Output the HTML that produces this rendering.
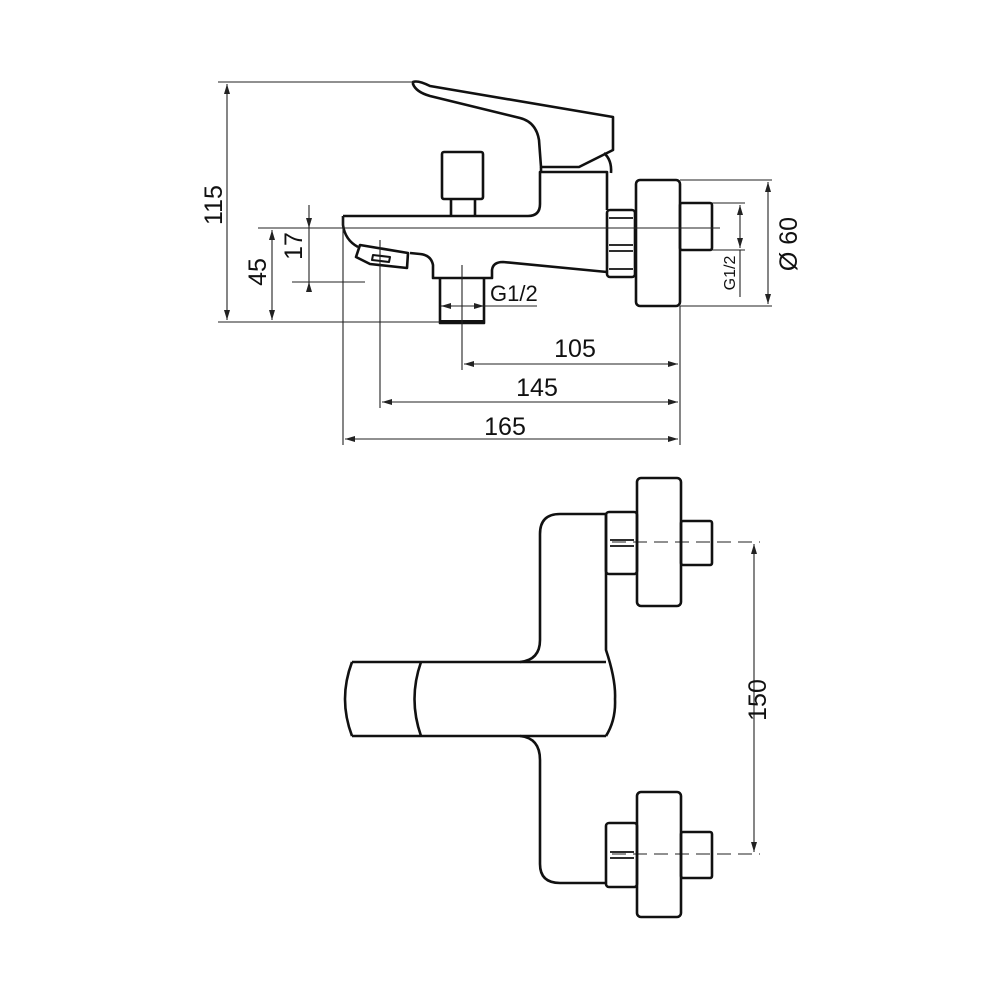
<!DOCTYPE html>
<html><head><meta charset="utf-8"><style>
html,body{margin:0;padding:0;background:#fff}
svg{display:block}
text{font-family:"Liberation Sans",Arial,sans-serif;fill:#111}
</style></head><body>
<svg width="1000" height="1000" viewBox="0 0 1000 1000" xmlns="http://www.w3.org/2000/svg">
<defs>
<marker id="a" viewBox="0 0 10 6" refX="10" refY="3" markerWidth="10" markerHeight="6" orient="auto-start-reverse" markerUnits="userSpaceOnUse"><path d="M0,0 L10,3 L0,6 z" fill="#222"/></marker>
</defs>
<g fill="none" stroke="#111" stroke-width="2.6" stroke-linejoin="round">
<!-- handle -->
<path d="M413,82 Q418,80 430,86 L613,117 L613,150 L579,167 L541,167 L539,140 Q536,122 520,118 L430,96 Q416,92 413,84 Z"/>
<path d="M604,153 Q612,160 611,173"/>
<!-- body -->
<path d="M343,216 L528,216 Q540,216 540,204 L540,172 L607,172 L607,210 M607,272 L503,262 Q493,262 492,270 L492,278 L433,278 L433,265 Q431,255 420,254 L410,253 M358,247 Q345,240 343,225 L343,216"/>
<path d="M541,172 L541,167"/>
<!-- aerator -->
<path d="M360,245 L408,253 L407,268 L370,264 L356,257 Z"/>
<path d="M373,255 L390,257 L389,262 L372,260 Z" stroke-width="2"/>
<!-- nipple -->
<path d="M440,278 L440,323 L484,323 L484,278"/>
<path d="M440,322 L484,322" stroke-width="4"/>
<!-- diverter -->
<rect x="442" y="152" width="41" height="47" rx="2"/>
<path d="M451,199 L451,216 M475,199 L475,216"/>
<!-- nut -->
<rect x="607" y="210" width="28" height="67" rx="3"/>
<path d="M609,218 L633,218 M609,245 L633,245 M609,251 L633,251 M609,269 L633,269" stroke-width="1.8"/>
<!-- flange & pipe -->
<rect x="636" y="180" width="44" height="126" rx="4"/>
<rect x="680" y="203" width="32" height="47" rx="2"/>
</g>
<g fill="none" stroke="#222" stroke-width="1.1">
<path d="M258,228 L720,228"/>
<path d="M218,82 L414,82 M218,322 L440,322"/>
<path d="M227,84 L227,320" marker-start="url(#a)" marker-end="url(#a)"/>
<path d="M272,230 L272,320" marker-start="url(#a)" marker-end="url(#a)"/>
<path d="M309,205 L309,288 M292,282 L365,282"/>
<path d="M309,220 L309,228" marker-end="url(#a)"/>
<path d="M309,292 L309,282" marker-end="url(#a)"/>
<path d="M680,180 L772,180 M680,306 L772,306"/>
<path d="M768,182 L768,304" marker-start="url(#a)" marker-end="url(#a)"/>
<path d="M712,203 L745,203 M712,250 L745,250 M740,250 L740,297"/>
<path d="M740,205 L740,248" marker-start="url(#a)" marker-end="url(#a)"/>
<path d="M445,306 L537,306"/>
<path d="M452,306 L441,306" marker-end="url(#a)"/>
<path d="M474,306 L484,306" marker-end="url(#a)"/>
<path d="M462,265 L462,370 M380,240 L380,408 M343,216 L343,445 M680,306 L680,445"/>
<path d="M464,364 L678,364" marker-start="url(#a)" marker-end="url(#a)"/>
<path d="M382,402 L678,402" marker-start="url(#a)" marker-end="url(#a)"/>
<path d="M345,439 L678,439" marker-start="url(#a)" marker-end="url(#a)"/>
<path d="M754,544 L754,852" marker-start="url(#a)" marker-end="url(#a)"/>
<path d="M612,542 L760,542 M612,854 L760,854" stroke-dasharray="14,7"/>
</g>
<!-- front view -->
<g fill="none" stroke="#111" stroke-width="2.6" stroke-linejoin="round">
<path d="M606,514 L560,514 Q540,514 540,534 L540,640 Q540,660 520,662"/>
<path d="M520,736 Q540,738 540,760 L540,864 Q540,883 560,883 L606,883"/>
<path d="M606,514 L606,650 Q616,680 615,699 Q616,720 606,736"/>
<path d="M352,662 L606,662 M352,736 L606,736"/>
<path d="M352,662 Q338,699 352,736"/>
<path d="M421,662 Q408,699 421,736"/>
<rect x="637" y="478" width="44" height="128" rx="4"/>
<rect x="681" y="521" width="31" height="44" rx="2"/>
<rect x="606" y="512" width="31" height="62" rx="3"/>
<path d="M610,540 L634,540 M610,546 L634,546" stroke-width="1.8"/>
<rect x="637" y="792" width="44" height="125" rx="4"/>
<rect x="681" y="832" width="31" height="46" rx="2"/>
<rect x="606" y="823" width="31" height="64" rx="3"/>
<path d="M610,852 L634,852 M610,858 L634,858" stroke-width="1.8"/>
</g>
<g font-size="25">
<text x="222" y="205" transform="rotate(-90 222 205)" text-anchor="middle">115</text>
<text x="266" y="272" transform="rotate(-90 266 272)" text-anchor="middle">45</text>
<text x="302" y="246" transform="rotate(-90 302 246)" text-anchor="middle">17</text>
<text x="797" y="244" transform="rotate(-90 797 244)" text-anchor="middle">Ø 60</text>
<text x="766" y="700" transform="rotate(-90 766 700)" text-anchor="middle">150</text>
<text x="575" y="357" text-anchor="middle">105</text>
<text x="537" y="396" text-anchor="middle">145</text>
<text x="505" y="435" text-anchor="middle">165</text>
<text x="490" y="301" font-size="22">G1/2</text>
</g>
<text x="735" y="273" transform="rotate(-90 735 273)" text-anchor="middle" font-size="16">G1/2</text>
</svg>
</body></html>
